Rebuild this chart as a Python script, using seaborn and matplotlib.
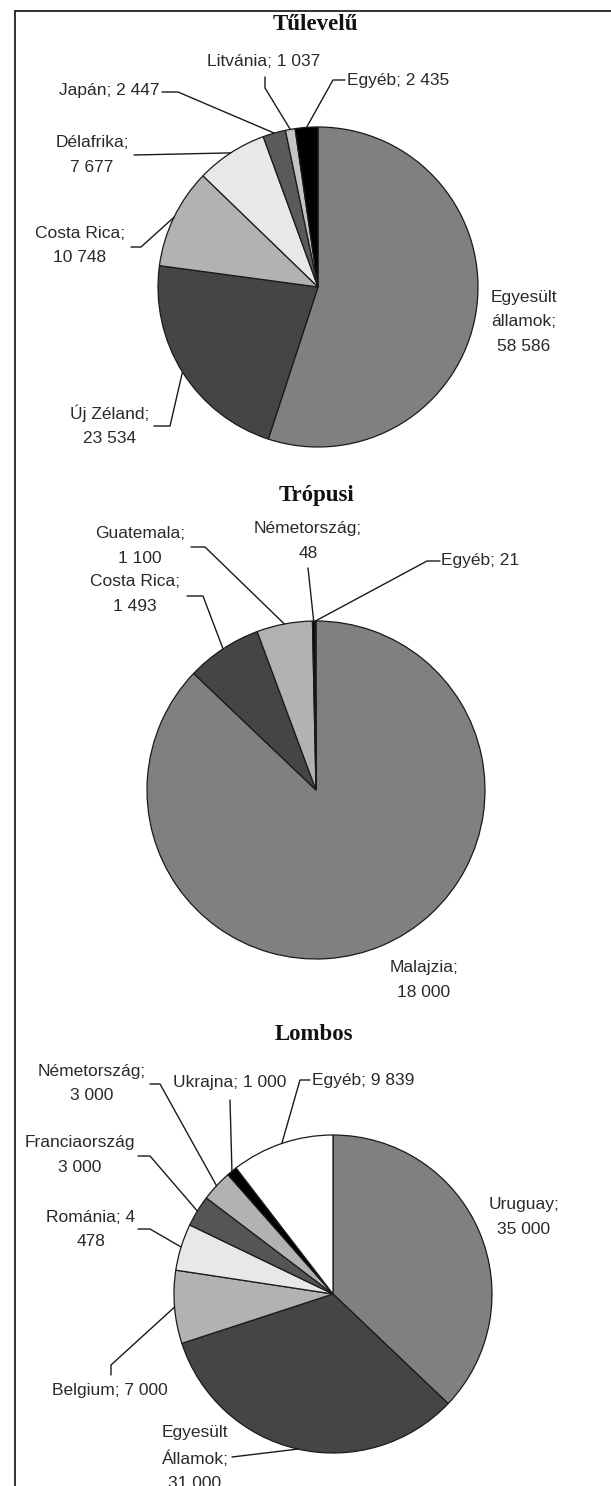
import numpy as np
import matplotlib
matplotlib.use("Agg")
import matplotlib.pyplot as plt
import seaborn as sns

sns.set_theme(style="white")
plt.rcParams['font.family'] = ['Liberation Sans', 'DejaVu Sans']

# ---------------- data ----------------
titles = ["Tűlevelű", "Trópusi", "Lombos"]

tul_labels = ["Egyesült\nállamok;\n58 586", "Új Zéland;\n23 534", "Costa Rica;\n10 748",
              "Délafrika;\n7 677", "Japán; 2 447", "Litvánia; 1 037", "Egyéb; 2 435"]
tul_values = [58586, 23534, 10748, 7677, 2447, 1037, 2435]

trop_labels = ["Malajzia;\n18 000", "Costa Rica;\n1 493", "Guatemala;\n1 100",
               "Németország;\n48", "Egyéb; 21"]
trop_values = [18000, 1493, 1100, 48, 21]

lomb_labels = ["Uruguay;\n35 000", "Egyesült\nÁllamok;\n31 000", "Belgium; 7 000",
               "Románia; 4\n478", "Franciaország\n3 000", "Németország;\n3 000",
               "Ukrajna; 1 000", "Egyéb; 9 839"]
lomb_values = [35000, 31000, 7000, 4478, 3000, 3000, 1000, 9839]

# ---------------- styles ----------------
tul_colors = ["#808080", "#454545", "#b2b2b2", "#e8e8e8", "#5a5a5a", "#c4c4c4", "#000000"]
trop_colors = ["#808080", "#454545", "#b2b2b2", "#000000", "#303030"]
lomb_colors = ["#808080", "#454545", "#b2b2b2", "#e8e8e8", "#555555", "#b2b2b2", "#000000", "#ffffff"]

W, H = 611, 1486
fig = plt.figure(figsize=(W / 100, H / 100), dpi=100)
fig.patch.set_facecolor("white")

# overlay axes in pixel coordinates (for text, leaders, frame)
ov = fig.add_axes([0, 0, 1, 1], zorder=5)
ov.set_xlim(0, W)
ov.set_ylim(H, 0)
ov.axis("off")
ov.patch.set_alpha(0)

# frame
ov.plot([15, 15, W], [H, 11, 11], color="#222222", lw=1.3, solid_joinstyle="miter")

# layout: (cx, cy, r), title pos, label positions (px), alignment, leader elbows
layouts = [
    dict(c=(318, 287, 160), title=(315, 25),
         pos=[(524, 322), (110, 425.5), (80, 245.5), (92, 155), (109, 91), (264, 62), (347, 80)],
         ha=["center", "center", "center", "center", "center", "center", "left"],
         leaders=[None, [(154, 426), (170, 426)], [(131, 247), (141, 247)],
                  [(134, 155), (226, 153)], [(162, 92), (178, 92)],
                  [(265, 77), (265, 88)], [(345, 80), (333, 80)]]),
    dict(c=(316, 790, 169), title=(316, 495),
         pos=[(424, 980), (135, 594), (140, 546), (308, 541), (441, 561)],
         ha=["center", "center", "center", "center", "left"],
         leaders=[None, [(187, 596), (203, 596)], [(191, 547), (205, 547)],
                  [(308, 568)], [(440, 561), (427, 561)]]),
    dict(c=(333, 1294, 159), title=(314, 1035),
         pos=[(524, 1217), (195, 1458), (110, 1391), (91, 1229.5), (80, 1155),
              (92, 1083.5), (230, 1082), (312, 1080)],
         ha=["center", "center", "center", "center", "center", "center", "center", "left"],
         leaders=[None, [(232, 1457)], [(111, 1375), (111, 1365)], [(138, 1229), (150, 1229)],
                  [(138, 1156), (150, 1156)], [(150, 1084), (160, 1084)],
                  [(230, 1100)], [(310, 1080), (300, 1080)]]),
]

datasets = [(tul_labels, tul_values, tul_colors),
            (trop_labels, trop_values, trop_colors),
            (lomb_labels, lomb_values, lomb_colors)]

for (labels, values, colors), lay, title in zip(datasets, layouts, titles):
    cx, cy, r = lay["c"]
    ax = fig.add_axes([0, 0, 1, 1], zorder=2)
    ax.patch.set_alpha(0)
    wedges, _ = ax.pie(values, colors=colors, startangle=90, counterclock=False,
                       wedgeprops=dict(edgecolor="#1a1a1a", linewidth=0.9))
    ax.set_aspect("auto")
    ax.set_xlim((0 - cx) / r, (W - cx) / r)
    ax.set_ylim((cy - H) / r, (cy - 0) / r)
    ax.axis("off")

    ov.text(*lay["title"], title, ha="center", va="center", fontsize=16.5,
            fontweight="bold", family=["Liberation Serif", "DejaVu Serif"], color="#111111")

    for w, lab, p, ha, ld in zip(wedges, labels, lay["pos"], lay["ha"], lay["leaders"]):
        ov.text(p[0], p[1], lab, ha=ha, va="center", fontsize=12.5, color="#2a2a2a",
                linespacing=1.78, multialignment="center")
        if ld is not None:
            mid = np.deg2rad((w.theta1 + w.theta2) / 2)
            end = (cx + r * np.cos(mid), cy - r * np.sin(mid))
            pts = list(ld) + [end]
            ov.plot([q[0] for q in pts], [q[1] for q in pts], color="#1a1a1a", lw=1.0)

fig.savefig("out.png", dpi=100, facecolor="white")
